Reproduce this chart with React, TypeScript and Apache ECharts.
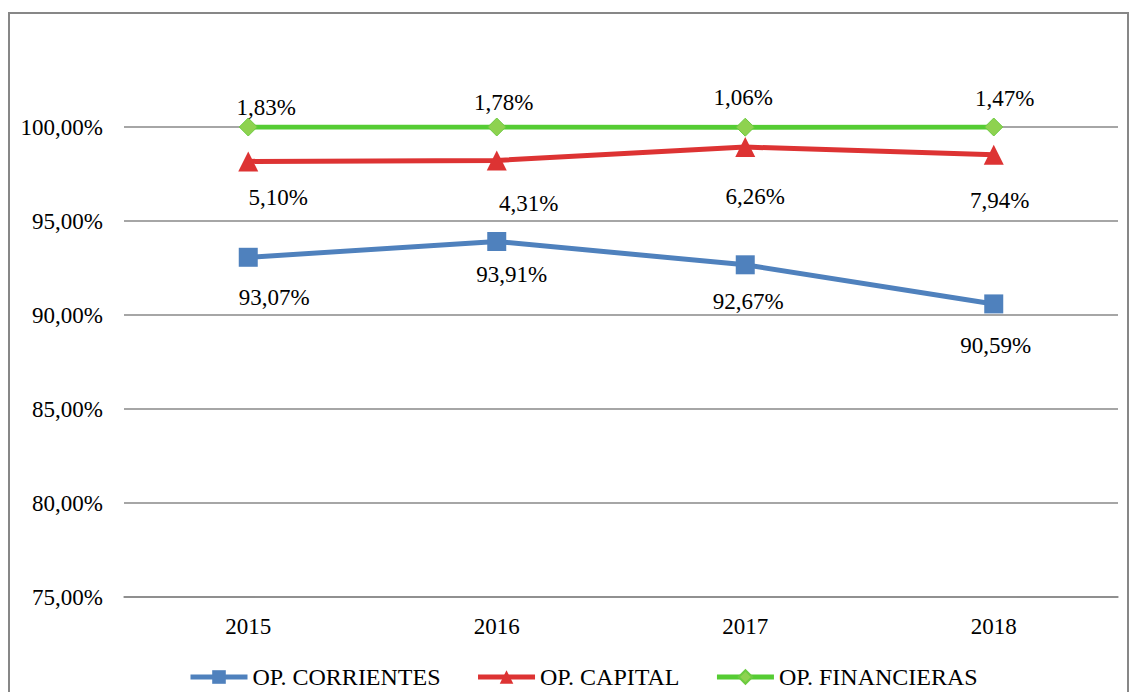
import React, { useEffect, useRef } from "react";
import * as echarts from "echarts";

const years = ["2015", "2016", "2017", "2018"];
const corrientes = [93.07, 93.91, 92.67, 90.59];
const capital = [5.1, 4.31, 6.26, 7.94];
const financieras = [1.83, 1.78, 1.06, 1.47];
const yTicks = { min: 75, max: 100, interval: 5 };

const corrOffsets = [[26, 40], [15, 33], [3, 37], [2, 42]];
const capOffsets = [[30, 36], [32, 43], [10, 49], [6, 46]];
const finOffsets = [[18, -20], [7, -25], [-2, -30], [11, -29]];

const fmt = (v: number) => v.toFixed(2).replace(".", ",") + "%";
const FONT = "Liberation Serif";
const FS = 23;

function withLabels(values: number[], offsets: number[][]) {
  return values.map((v, i) => ({
    value: v,
    label: { offset: offsets[i], fontFamily: FONT, fontSize: FS, color: "#000" },
  }));
}

export default function App() {
  const ref = useRef<HTMLDivElement>(null);
  useEffect(() => {
    if (!ref.current) return;
    const chart = echarts.init(ref.current, undefined, { renderer: "svg" });
    const labelBase = {
      show: true,
      position: "inside" as const,
      color: "#000",
      fontFamily: FONT,
      fontSize: FS,
      formatter: (p: any) => fmt(p.value),
    };
    chart.setOption({
      animation: false,
      textStyle: { fontFamily: FONT },
      grid: { left: 124, right: 13, top: 127, bottom: 95, containLabel: false },
      xAxis: {
        type: "category",
        data: years,
        boundaryGap: true,
        axisLine: { show: true, lineStyle: { color: "#888", width: 1.5 } },
        axisTick: { show: false },
        axisLabel: { color: "#000", fontSize: FS, fontFamily: FONT, margin: 18 },
      },
      yAxis: {
        type: "value",
        min: yTicks.min,
        max: yTicks.max,
        interval: yTicks.interval,
        axisLine: { show: false },
        axisTick: { show: false },
        splitLine: { lineStyle: { color: "#888", width: 1.5 } },
        axisLabel: {
          color: "#000",
          fontSize: FS,
          fontFamily: FONT,
          margin: 21,
          formatter: (v: number) => fmt(v),
        },
      },
      legend: {
        left: 183,
        top: 660,
        itemWidth: 57,
        itemHeight: 17,
        itemGap: 35,
        textStyle: { color: "#000", fontSize: 24, fontFamily: FONT },
        data: [
          { name: "OP. CORRIENTES", lineStyle: { width: 5 } },
          { name: "OP. CAPITAL", lineStyle: { width: 5 } },
          { name: "OP. FINANCIERAS", lineStyle: { width: 5 } },
        ],
      },
      series: [
        {
          name: "OP. CORRIENTES",
          type: "line",
          stack: "total",
          data: withLabels(corrientes, corrOffsets),
          symbol: "rect",
          symbolSize: 19,
          lineStyle: { color: "#4F81BD", width: 5 },
          itemStyle: { color: "#4F81BD" },
          label: labelBase,
          z: 3,
        },
        {
          name: "OP. CAPITAL",
          type: "line",
          stack: "total",
          data: withLabels(capital, capOffsets),
          symbol: "triangle",
          symbolSize: 20,
          lineStyle: { color: "#DD3333", width: 5 },
          itemStyle: { color: "#DD3333" },
          label: labelBase,
          z: 4,
        },
        {
          name: "OP. FINANCIERAS",
          type: "line",
          stack: "total",
          data: withLabels(financieras, finOffsets),
          symbol: "diamond",
          symbolSize: 18,
          lineStyle: { color: "#55CC33", width: 5 },
          itemStyle: { color: "#8ED24F", borderColor: "#6CCB40", borderWidth: 1 },
          label: labelBase,
          z: 5,
        },
      ],
    });
    return () => chart.dispose();
  }, []);
  return (
    <div style={{ position: "fixed", left: 0, top: 0, width: 1131, height: 692, background: "#fff", overflow: "hidden" }}>
      <div
        style={{
          position: "absolute",
          left: 8,
          top: 12,
          width: 1117,
          height: 700,
          border: "2px solid #878787",
        }}
      />
      <div ref={ref} style={{ position: "absolute", left: 0, top: 0, width: 1131, height: 692 }} />
    </div>
  );
}
